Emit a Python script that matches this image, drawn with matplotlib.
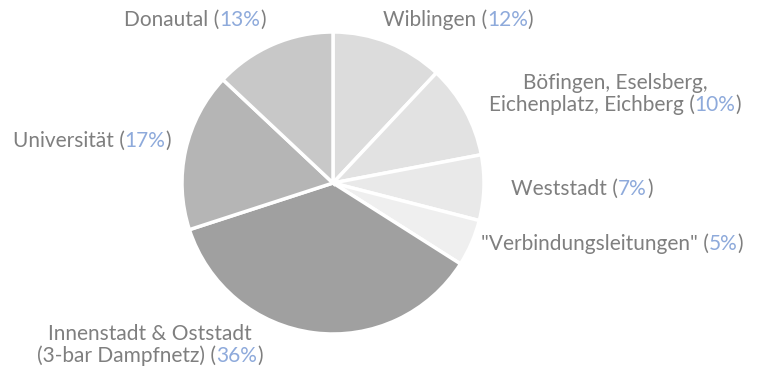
import matplotlib
matplotlib.use("Agg")
import matplotlib.pyplot as plt
from matplotlib.offsetbox import TextArea, HPacker, VPacker, AnnotationBbox

# Fernwärmenetz Ulm - Anteile der Netzgebiete
names = ["Wiblingen", "Böfingen, Eselsberg,\nEichenplatz, Eichberg", "Weststadt",
         "\"Verbindungsleitungen\"", "Innenstadt & Oststadt\n(3-bar Dampfnetz)",
         "Universität", "Donautal"]
shares = [12, 10, 7, 5, 36, 17, 13]
colors = ["#dcdcdc", "#e2e2e2", "#e9e9e9", "#efefef", "#a0a0a0", "#b5b5b5", "#c8c8c8"]

# label centres in pixels (x, y from top)
label_pos = [(458, 20), (615, 94), (582, 189), (612, 244), (150, 345), (92, 141), (195, 20)]

txt_col = "#7f7f7f"
pct_col = "#8eaadb"
fsize = 15
fam = "Lato"

fig = plt.figure(figsize=(7.6, 3.71), dpi=100)
ax = fig.add_axes([0, 0, 1, 1])

ax.pie(shares, colors=colors, startangle=90, counterclock=False,
       radius=151, center=(333, 371 - 183),
       wedgeprops=dict(edgecolor="white", linewidth=2.5))

# pie() resets the limits, so fix them afterwards
ax.set_xlim(0, 760)
ax.set_ylim(0, 371)
ax.set_aspect("equal")
ax.axis("off")


def part(s, c):
    return TextArea(s, textprops=dict(color=c, fontsize=fsize, family=fam))


for name, val, (px, py) in zip(names, shares, label_pos):
    lines = name.split("\n")
    rows = []
    for i, ln in enumerate(lines):
        if i == len(lines) - 1:
            row = HPacker(children=[part(ln + " (", txt_col), part(f"{val}%", pct_col),
                                    part(")", txt_col)], pad=0, sep=0, align="baseline")
        else:
            row = HPacker(children=[part(ln, txt_col)], pad=0, sep=0)
        rows.append(row)
    box = VPacker(children=rows, pad=0, sep=1, align="center")
    ab = AnnotationBbox(box, (px, 371 - py), frameon=False, box_alignment=(0.5, 0.5))
    ax.add_artist(ab)

fig.savefig("out.png", dpi=100)
